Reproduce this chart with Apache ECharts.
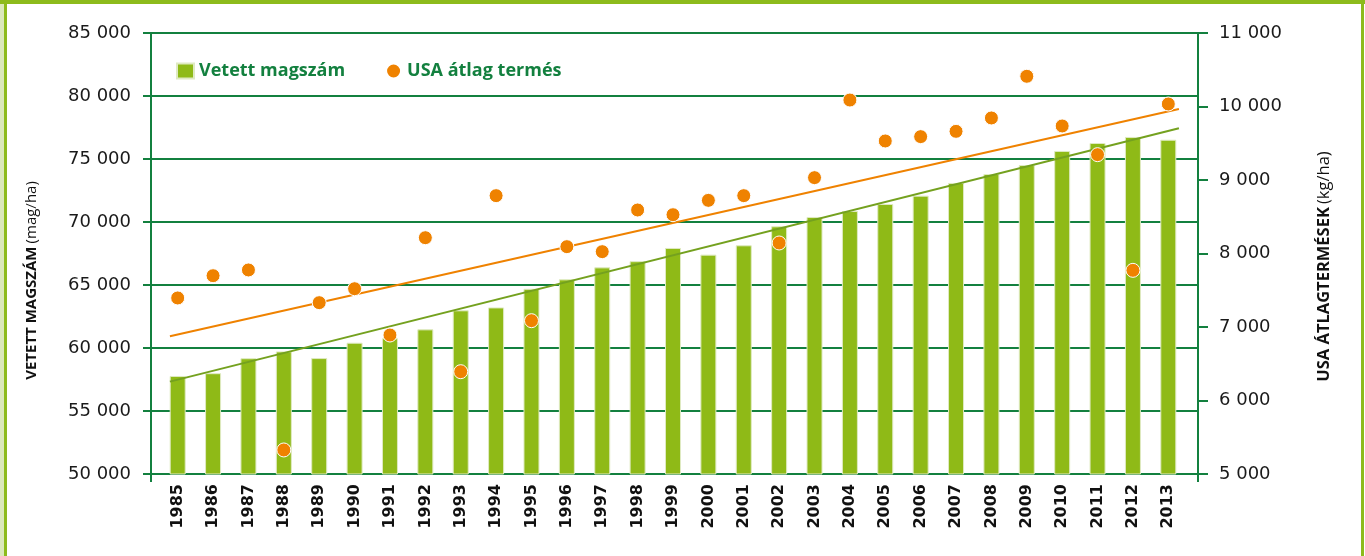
<!DOCTYPE html>
<html>
<head>
<meta charset="utf-8">
<script src="https://cdn.jsdelivr.net/npm/echarts@6/dist/echarts.min.js"></script>
<style>
  html, body { margin: 0; padding: 0; background: #fff; }
  #chart { width: 1365px; height: 556px; }
</style>
</head>
<body>
<div id="chart"></div>
<script>
// evek (x tengely)
const years = ['1985', '1986', '1987', '1988', '1989', '1990', '1991', '1992', '1993', '1994',
  '1995', '1996', '1997', '1998', '1999', '2000', '2001', '2002', '2003', '2004',
  '2005', '2006', '2007', '2008', '2009', '2010', '2011', '2012', '2013'];

// vetett magszam (mag/ha) - bal tengely
const seedRate = [57780, 58000, 59190, 59730, 59200, 60420, 60770, 61480, 62990, 63220,
  64700, 65450, 66400, 66890, 67940, 67410, 68150, 69660, 70400, 70870,
  71430, 72090, 73100, 73810, 74520, 75640, 76270, 76750, 76530];

// USA atlagtermes (kg/ha) - jobb tengely
const usYield = [7395, 7698, 7776, 5327, 7331, 7521, 6891, 8215, 6392, 8787,
  7086, 8093, 8025, 8592, 8528, 8723, 8787, 8143, 9032, 10088,
  9531, 9590, 9662, 9844, 10411, 9735, 9345, 7771, 10034];

// trendvonalak vegpontjai (leolvasva)
const trendYears = [1984.78, 2013.3];
const trendSeed = [57330, 77440];
const trendYield = [6875, 9965];

// tengely beosztasok
const leftTicks = [50000, 85000, 5000];
const rightTicks = [5000, 11000, 1000];

const darkGreen = '#13803f';
const barGreen = '#8fba17';
const orange = '#ef8200';

const fmt = (v) => String(v).replace(/\B(?=(\d{3})+(?!\d))/g, ' ');

const chart = echarts.init(document.getElementById('chart'));

const option = {
  animation: false,
  backgroundColor: '#fff',
  textStyle: { fontFamily: 'Open Sans' },
  graphic: [
    { type: 'rect', shape: { x: 0, y: 0, width: 4, height: 556 }, style: { fill: '#dbe8bb' }, silent: true },
    { type: 'rect', shape: { x: 0, y: 0, width: 1365, height: 4 }, style: { fill: '#8dbb1c' }, silent: true },
    { type: 'rect', shape: { x: 4, y: 0, width: 3, height: 556 }, style: { fill: '#8dbb1c' }, silent: true },
    { type: 'rect', shape: { x: 1361, y: 0, width: 3, height: 556 }, style: { fill: '#8dbb1c' }, silent: true }
  ],
  legend: {
    left: 171,
    top: 57,
    itemWidth: 17,
    itemHeight: 15,
    itemGap: 40,
    textStyle: { color: darkGreen, fontSize: 18, fontWeight: 'bold', fontFamily: 'Open Sans' },
    data: [
      { name: 'Vetett magszám', icon: 'rect' },
      { name: 'USA átlag termés', icon: 'circle' }
    ]
  },
  grid: [
    { left: 151, right: 167, top: 33, bottom: 82 },
    { left: 160, right: 179, top: 33, bottom: 82 }
  ],
  xAxis: [
    {
      gridIndex: 0, type: 'value', min: 0, max: 1, interval: 1,
      axisLine: { show: false },
      axisTick: { show: true, length: 8, lineStyle: { color: darkGreen, width: 2 } },
      axisLabel: { show: false },
      splitLine: { show: false }
    },
    {
      gridIndex: 1, type: 'category', data: years,
      axisLine: { show: false },
      axisTick: { show: false },
      axisLabel: {
        rotate: 90, margin: 10, color: '#111',
        fontFamily: 'DejaVu Sans', fontWeight: 'bold', fontSize: 16
      }
    },
    {
      gridIndex: 1, type: 'value', min: 1984.5, max: 2013.5, show: false
    }
  ],
  yAxis: [
    {
      gridIndex: 0, type: 'value', position: 'left',
      min: leftTicks[0], max: leftTicks[1], interval: leftTicks[2],
      name: '{b|VETETT MAGSZÁM} {r|(mag/ha)}',
      nameLocation: 'middle', nameRotate: 90, nameGap: 112,
      nameTextStyle: {
        padding: [0, 54, 0, 0],
        rich: {
          b: { fontFamily: 'Open Sans', fontWeight: 'bold', fontSize: 15, color: '#111' },
          r: { fontFamily: 'Open Sans', fontSize: 15, color: '#111' }
        }
      },
      axisLine: { show: true, lineStyle: { color: darkGreen, width: 2 } },
      axisTick: { show: true, length: 8, lineStyle: { color: darkGreen, width: 2 } },
      axisLabel: { margin: 20, color: '#1a1a1a', fontFamily: 'DejaVu Sans', fontSize: 18, formatter: fmt },
      splitLine: { show: true, lineStyle: { color: darkGreen, width: 2 } }
    },
    {
      gridIndex: 0, type: 'value', position: 'right',
      min: rightTicks[0], max: rightTicks[1], interval: rightTicks[2],
      name: '{b|USA ÁTLAGTERMÉSEK} {r|(kg/ha)}',
      nameLocation: 'middle', nameRotate: 90, nameGap: 118,
      nameTextStyle: {
        padding: [0, 26, 0, 0],
        rich: {
          b: { fontFamily: 'Open Sans', fontWeight: 'bold', fontSize: 16.5, color: '#111' },
          r: { fontFamily: 'Open Sans', fontSize: 16.5, color: '#111' }
        }
      },
      axisLine: { show: true, lineStyle: { color: darkGreen, width: 2 } },
      axisTick: { show: true, length: 10, lineStyle: { color: darkGreen, width: 2 } },
      axisLabel: { margin: 21, color: '#1a1a1a', fontFamily: 'DejaVu Sans', fontSize: 18, formatter: fmt },
      splitLine: { show: false }
    },
    {
      gridIndex: 1, type: 'value', min: leftTicks[0], max: leftTicks[1], show: false
    },
    {
      gridIndex: 1, type: 'value', min: rightTicks[0], max: rightTicks[1], show: false
    }
  ],
  series: [
    {
      name: 'Vetett magszám',
      type: 'bar',
      xAxisIndex: 1, yAxisIndex: 2,
      barWidth: 16,
      itemStyle: { color: barGreen, borderColor: '#dfeac2', borderWidth: 1 },
      data: seedRate,
      z: 2
    },
    {
      name: 'seedTrend',
      type: 'line',
      xAxisIndex: 2, yAxisIndex: 2,
      symbol: 'none',
      lineStyle: { color: '#74a11f', width: 2 },
      data: trendYears.map((x, i) => [x, trendSeed[i]]),
      z: 3
    },
    {
      name: 'yieldTrend',
      type: 'line',
      xAxisIndex: 2, yAxisIndex: 3,
      symbol: 'none',
      lineStyle: { color: '#ef8200', width: 2 },
      data: trendYears.map((x, i) => [x, trendYield[i]]),
      z: 3
    },
    {
      name: 'USA átlag termés',
      type: 'scatter',
      xAxisIndex: 1, yAxisIndex: 3,
      symbolSize: 14,
      itemStyle: { color: orange, borderColor: '#fff', borderWidth: 1, opacity: 1 },
      data: usYield,
      z: 4
    }
  ]
};

chart.setOption(option);
</script>
</body>
</html>
